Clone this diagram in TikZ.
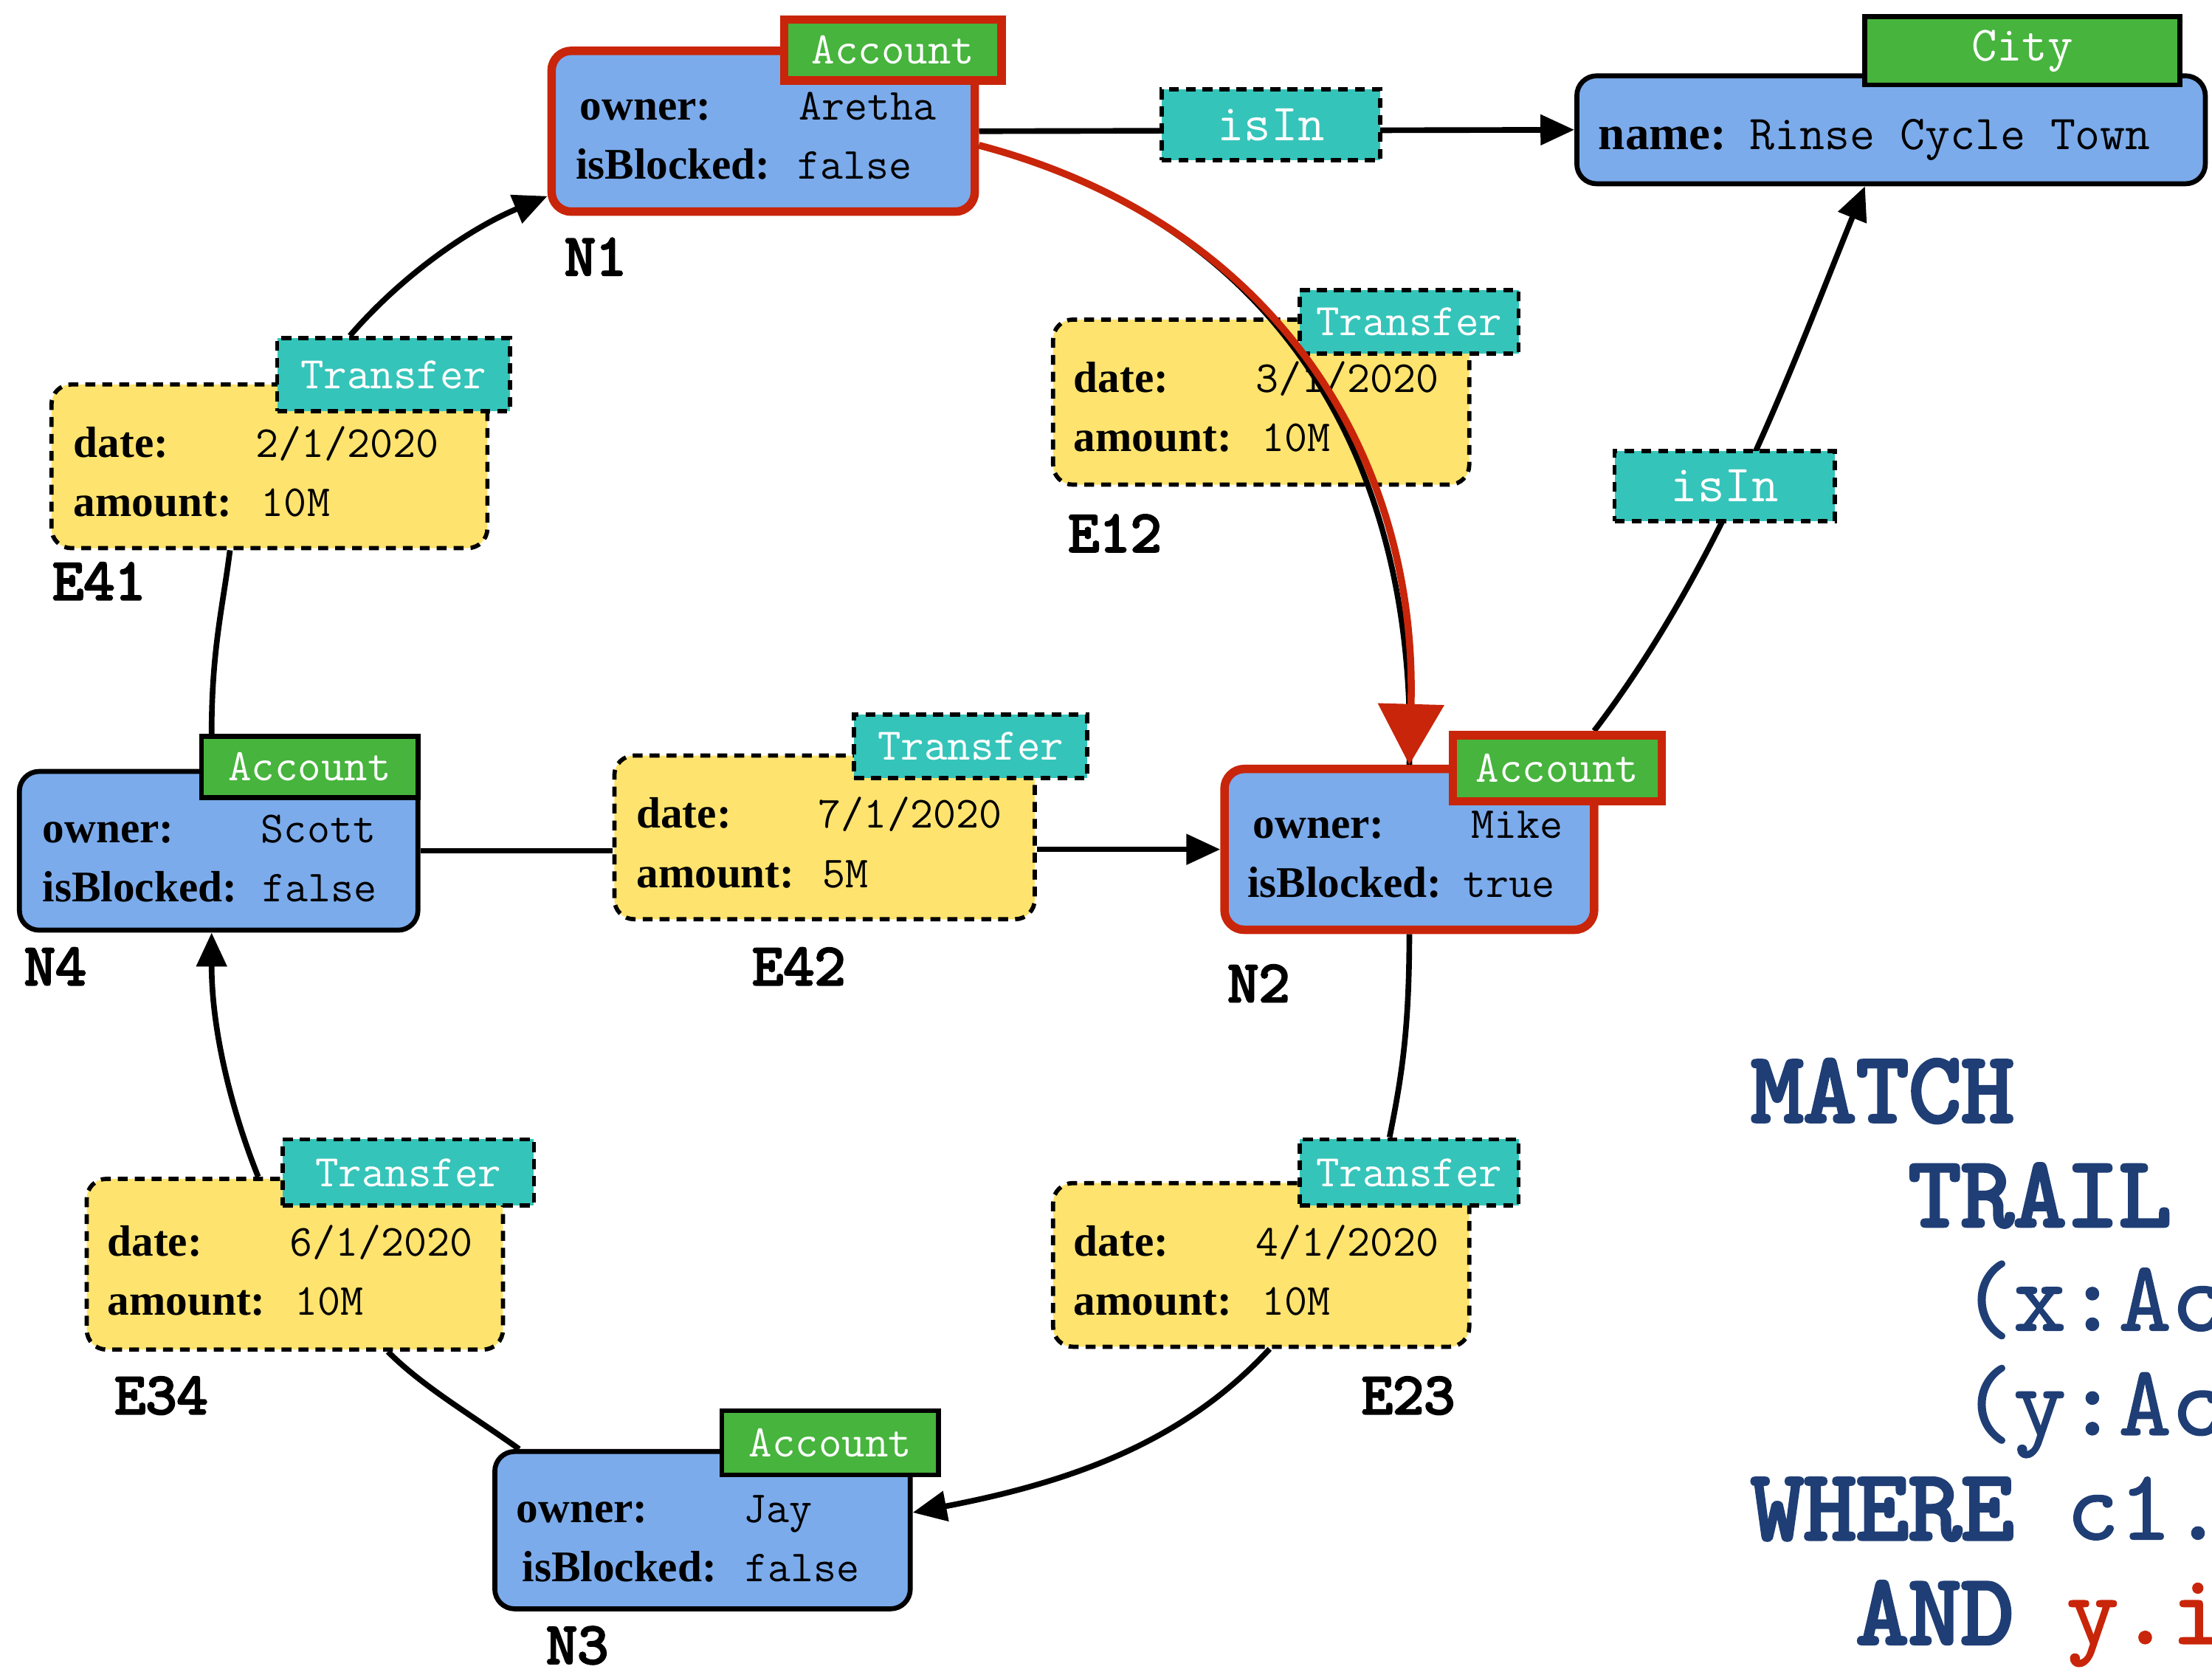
\documentclass[tikz,border=0pt]{standalone}
\usepackage{fontspec}
\setmainfont{Liberation Serif}
\newfontfamily\bmono[FakeBold=3.5]{lmmono10-regular.otf}
\newfontfamily\mmono[FakeBold=1.2]{lmmono10-regular.otf}
\usetikzlibrary{arrows.meta}
\definecolor{nodeblue}{HTML}{7BABEB}
\definecolor{mygreen}{HTML}{47B43D}
\definecolor{myred}{HTML}{C8250A}
\definecolor{myteal}{HTML}{35C4BA}
\definecolor{myyellow}{HTML}{FEE36E}
\definecolor{codeblue}{HTML}{1F3E75}
\newcommand\monof{\ttfamily}
\pgfdeclarelayer{bg}
\pgfsetlayers{bg,main}
\tikzset{
 box/.style={draw=black, line width=3.5pt, fill=nodeblue, rounded corners=14pt, inner sep=0pt},
 redbox/.style={box, draw=myred, line width=6pt},
 tag/.style={draw=black, line width=3.5pt, fill=mygreen, inner sep=0pt, text=white, font=\monof\fontsize{32}{34}\selectfont},
 redtag/.style={tag, draw=myred, line width=6pt},
 ebox/.style={draw=black, line width=3pt, dash pattern=on 7pt off 5pt, fill=myyellow, rounded corners=14pt, inner sep=0pt},
 etag/.style={draw=black, line width=3pt, dash pattern=on 7pt off 5pt, fill=myteal, inner sep=0pt, text=white, font=\monof\fontsize{32}{34}\selectfont},
 key/.style={anchor=base west, inner sep=0pt, font=\bfseries\fontsize{31}{34}\selectfont},
 val/.style={anchor=base west, inner sep=0pt, font=\monof\fontsize{31.5}{34}\selectfont},
 idl/.style={anchor=base west, inner sep=0pt, font=\bmono\fontsize{42}{46}\selectfont},
 edge/.style={line width=4pt, draw=black},
 arr/.style={edge, -{Triangle[length=24pt,width=21pt]}},
 code/.style={anchor=base west, inner sep=0pt, text=codeblue, font=\mmono\fontsize{71}{78}\selectfont},
}
\begin{document}
\begin{tikzpicture}[x=1pt,y=-1pt]
\useasboundingbox (0,0) rectangle (1568,1185);
\clip (0,0) rectangle (1568,1185);

% ---- nodes ----
\node[redbox, minimum width=300pt, minimum height=114pt] (n1) at (541,93) {};
\node[redtag, minimum width=154pt, minimum height=43pt] (n1tag) at (633,35.5) {Account};
\node[box, minimum width=445.5pt, minimum height=76.5pt] (city) at (1340.5,92) {};
\node[tag, minimum width=223.5pt, minimum height=48.5pt, font=\monof\fontsize{35}{37}\selectfont] (citytag) at (1433.5,36) {City};
\node[box, minimum width=282.5pt, minimum height=112.5pt] (n4) at (155,603) {};
\node[tag, minimum width=153.5pt, minimum height=43.5pt] (n4tag) at (219.5,543.5) {Account};
\node[redbox, minimum width=262pt, minimum height=114pt] (n2) at (999,602) {};
\node[redtag, minimum width=148pt, minimum height=47pt] (n2tag) at (1104,544.5) {Account};
\node[box, minimum width=294.5pt, minimum height=111.5pt] (n3) at (498,1084.5) {};
\node[tag, minimum width=153.5pt, minimum height=45.5pt] (n3tag) at (588.5,1022.5) {Account};

\node[ebox, minimum width=309pt, minimum height=116pt] (e41) at (191,330.5) {};
\node[etag, minimum width=165pt, minimum height=52pt] (e41tag) at (279,265.5) {Transfer};
\node[ebox, minimum width=295pt, minimum height=117pt] (e12) at (894,285) {};
\node[etag, minimum width=155pt, minimum height=45pt] (e12tag) at (999,228) {Transfer};
\node[ebox, minimum width=298pt, minimum height=116pt] (e42) at (584.5,593.5) {};
\node[etag, minimum width=165pt, minimum height=45pt] (e42tag) at (688,529) {Transfer};
\node[ebox, minimum width=295pt, minimum height=121pt] (e34) at (209,896) {};
\node[etag, minimum width=178pt, minimum height=47pt] (e34tag) at (289.5,831) {Transfer};
\node[ebox, minimum width=295pt, minimum height=116pt] (e23) at (894,896.5) {};
\node[etag, minimum width=155pt, minimum height=47pt] (e23tag) at (999,831) {Transfer};

\node[etag, minimum width=155pt, minimum height=50pt, font=\monof\fontsize{37}{39}\selectfont] (isin1) at (901,88.5) {isIn};
\node[etag, minimum width=156pt, minimum height=50pt, font=\monof\fontsize{37}{39}\selectfont] (isin2) at (1222.5,344.5) {isIn};

% ---- fields ----
\node[key] (n1ka) at (411,85) {owner:};
\node[val] (n1va) at (566,85) {Aretha};
\node[key] (n1kb) at (408,127) {isBlocked:};
\node[val] (n1vb) at (565,127) {false};

\node[key, font=\bfseries\fontsize{34}{36}\selectfont] (cka) at (1133,106) {name:};
\node[val, font=\monof\fontsize{34.5}{36}\selectfont] (cva) at (1240,106) {Rinse Cycle Town};

\node[key] (n4ka) at (30,597) {owner:};
\node[val] (n4va) at (185,597) {Scott};
\node[key] (n4kb) at (30,639) {isBlocked:};
\node[val] (n4vb) at (186,639) {false};

\node[key] (n2ka) at (888,594) {owner:};
\node[val] (n2va) at (1043,594) {Mike};
\node[key] (n2kb) at (884,636) {isBlocked:};
\node[val] (n2vb) at (1037,636) {true};

\node[key] (n3ka) at (366,1079) {owner:};
\node[val] (n3va) at (527,1079) {Jay};
\node[key] (n3kb) at (370,1121) {isBlocked:};
\node[val] (n3vb) at (528,1121) {false};

\node[key] (e41ka) at (52,324) {date:};
\node[val] (e41va) at (181,324) {2/1/2020};
\node[key] (e41kb) at (52,366) {amount:};
\node[val] (e41vb) at (185,366) {10M};

\node[key] (e12ka) at (761,278) {date:};
\node[val] (e12va) at (890,278) {3/1/2020};
\node[key] (e12kb) at (761,320) {amount:};
\node[val] (e12vb) at (894,320) {10M};

\node[key] (e42ka) at (451,587) {date:};
\node[val] (e42va) at (580,587) {7/1/2020};
\node[key] (e42kb) at (451,629) {amount:};
\node[val] (e42vb) at (583,629) {5M};

\node[key] (e34ka) at (76,890) {date:};
\node[val] (e34va) at (205,890) {6/1/2020};
\node[key] (e34kb) at (76,932) {amount:};
\node[val] (e34vb) at (209,932) {10M};

\node[key] (e23ka) at (761,890) {date:};
\node[val] (e23va) at (890,890) {4/1/2020};
\node[key] (e23kb) at (761,932) {amount:};
\node[val] (e23vb) at (894,932) {10M};

% ---- ids ----
\node[idl] (l1) at (400,195) {N1};
\node[idl] (l4) at (17,698) {N4};
\node[idl] (l2) at (870,710) {N2};
\node[idl] (l3) at (387,1179) {N3};
\node[idl] (le41) at (37,425) {E41};
\node[idl] (le12) at (757,391) {E12};
\node[idl] (le42) at (533,698) {E42};
\node[idl] (le34) at (81,1002) {E34};
\node[idl] (le23) at (965,1002) {E23};

% ---- edges ----
\begin{pgfonlayer}{bg}
\fill[white] (0,0) rectangle (1568,1185);
\draw[arr] (n1.east) -- (city.west);
\draw[edge] ([xshift=9pt]n4tag.north west) .. controls +(0,-60) and +(-5,40) .. ([xshift=-28pt]e41.south);
\draw[arr] ([xshift=-31pt]e41tag.north) .. controls +(37,-43) and +(-55,23) .. ([yshift=-46pt]n1.west);
\draw[edge] (n4.east) -- (n4.east -| e42.west);
\draw[arr] (e42.east |- n2.west) -- (n2.west);
\draw[arr] ([xshift=-26pt]e34.north) .. controls +(-18,-45) and +(0,71) .. ([xshift=-5pt]n4.south);
\draw[edge] ([xshift=19pt]n3.north west) .. controls +(-35,-25) and +(25,25) .. ([xshift=66pt]e34.south);
\draw[edge] (n2.south) .. controls +(0,70) and +(8,-40) .. ([xshift=-14pt]e23tag.north);
\draw[arr] ([xshift=6pt]e23.south) .. controls +(-60,65) and +(115,-22) .. ([yshift=12.5pt]n3.east);
\draw[arr] ([xshift=26pt]n2tag.north) .. controls (1220,400) and (1270,260) .. ([xshift=-18.5pt]city.south);
\end{pgfonlayer}

% ---- highlighted transfer N1 -> N2 ----
\draw[edge] ([yshift=-10pt]n1.east) .. controls (910,160) and (1005,330) .. (n2.north);
\draw[line width=5pt, draw=myred, -{Triangle[length=43pt,width=46pt]}] ([yshift=-10pt]n1.east) .. controls (910,160) and (1005,330) .. (n2.north);

% ---- query text ----
\node[code, font=\bmono\fontsize{71}{78}\selectfont] (q1) at (1241,795) {MATCH};
\node[code, font=\bmono\fontsize{71}{78}\selectfont] (q2) at (1352.6,869) {TRAIL};
\node[code] (q3) at (1389.8,943) {(x:Ac};
\node[code] (q4) at (1389.8,1017) {(y:Ac};
\node[code] (q5) at (1241,1091) {{\bmono WHERE} c1.};
\node[code] (q6) at (1315.4,1165) {{\bmono AND} \textcolor{myred}{y.i}};
\end{tikzpicture}
\end{document}
